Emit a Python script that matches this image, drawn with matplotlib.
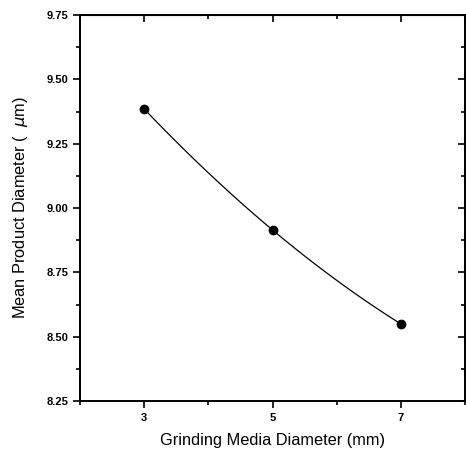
import numpy as np
import matplotlib
matplotlib.use('Agg')
import matplotlib.pyplot as plt
from matplotlib.ticker import MultipleLocator

# data
media_d = [3, 5, 7]
mean_d = [9.385, 8.915, 8.55]
xticks = [3, 5, 7]
yticks = [8.25, 8.50, 8.75, 9.00, 9.25, 9.50, 9.75]

plt.rcParams['font.family'] = ['Liberation Sans', 'DejaVu Sans']

fig = plt.figure(figsize=(4.66, 4.59), dpi=100)
ax = fig.add_axes([0.172, 0.126, 0.826, 0.841])

# smooth curve through the three points
coef = np.polyfit(media_d, mean_d, 2)
xs = np.linspace(media_d[0], media_d[-1], 100)
ax.plot(xs, np.polyval(coef, xs), color='black', lw=0.9)
ax.plot(media_d, mean_d, 'o', color='black', ms=6)

ax.set_xlim(2, 8)
ax.set_ylim(8.25, 9.75)
ax.set_xticks(xticks)
ax.set_yticks(yticks)
ax.set_yticklabels(['%.2f' % v for v in yticks])
ax.xaxis.set_minor_locator(MultipleLocator(1))
ax.yaxis.set_minor_locator(MultipleLocator(0.125))

for s in ax.spines.values():
    s.set_linewidth(1.4)

ax.tick_params(which='both', direction='out', width=1.2)
ax.tick_params(which='major', length=5)
ax.tick_params(which='minor', length=3)
ax.tick_params(axis='both', labelsize=8)
for lab in ax.get_xticklabels() + ax.get_yticklabels():
    lab.set_fontweight('bold')
    lab.set_fontstretch('condensed')

# inward ticks on top and right
ax2 = ax.secondary_xaxis('top')
ax2.set_xticks(xticks)
ax2.xaxis.set_minor_locator(MultipleLocator(1))
ax2.tick_params(which='both', direction='in', labeltop=False, width=1.2)
ax2.tick_params(which='major', length=5)
ax2.tick_params(which='minor', length=3)
ax3 = ax.secondary_yaxis('right')
ax3.set_yticks(yticks)
ax3.yaxis.set_minor_locator(MultipleLocator(0.125))
ax3.tick_params(which='both', direction='in', labelright=False, width=1.2)
ax3.tick_params(which='major', length=5)
ax3.tick_params(which='minor', length=3)

ax.set_xlabel('Grinding Media Diameter (mm)', fontsize=11.8, labelpad=7)
ax.set_ylabel(r'Mean Product Diameter (  $\mu$m)', fontsize=11.8, labelpad=12)

fig.savefig('out.png', dpi=100)
